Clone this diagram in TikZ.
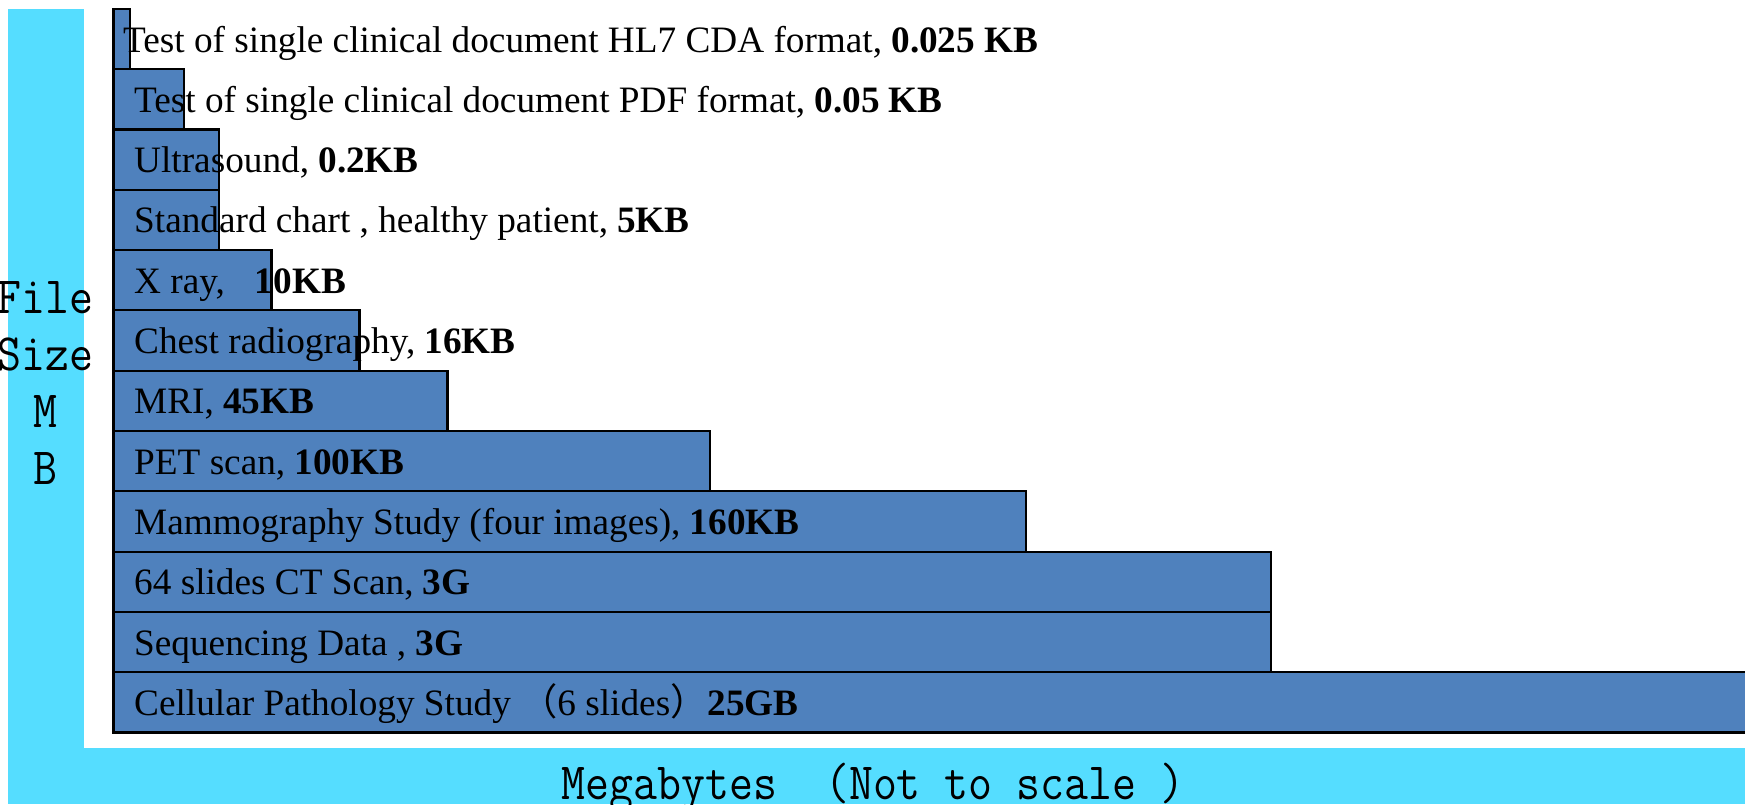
\documentclass[tikz,border=0pt]{standalone}
\usepackage{fontspec}
\setmainfont{Liberation Serif}
\newfontfamily\cjk{Noto Sans CJK SC}
\newfontfamily\axisfont[FakeStretch=0.888]{Latin Modern Mono}
\definecolor{BarBlue}{HTML}{4F81BD}
\definecolor{AxisCyan}{HTML}{55DDFF}
\usetikzlibrary{positioning}

\begin{document}
\begin{tikzpicture}[
      bar/.style={rectangle, draw=black, line width=0.6pt, fill=BarBlue,
        inner sep=0pt, outer sep=0pt, minimum height=0.603cm},
      lbl/.style={anchor=base west, inner sep=0pt, font=\fontsize{10.6}{12}\selectfont},
      ax/.style={inner sep=0pt, font=\fontsize{14.9}{16.2}\selectfont\axisfont}]
      \useasboundingbox (0,0) rectangle (17.45,-8.04);
      % axis bands
      \fill[AxisCyan] (0.078,-0.089) rectangle (0.835,-8.04);
      \fill[AxisCyan] (0.078,-7.48) rectangle (17.45,-8.04);
      % bars, top to bottom
      \node[bar, minimum width=0.167cm, anchor=north west] (b1) at (1.135,-0.089) {};
      \node[bar, minimum width=0.701cm, below right=0pt and 0pt of b1.south west] (b2) {};
      \node[bar, minimum width=1.057cm, below right=0pt and 0pt of b2.south west] (b3) {};
      \node[bar, minimum width=1.057cm, below right=0pt and 0pt of b3.south west] (b4) {};
      \node[bar, minimum width=1.580cm, below right=0pt and 0pt of b4.south west] (b5) {};
      \node[bar, minimum width=2.460cm, below right=0pt and 0pt of b5.south west] (b6) {};
      \node[bar, minimum width=3.340cm, below right=0pt and 0pt of b6.south west] (b7) {};
      \node[bar, minimum width=5.965cm, below right=0pt and 0pt of b7.south west] (b8) {};
      \node[bar, minimum width=9.125cm, below right=0pt and 0pt of b8.south west] (b9) {};
      \node[bar, minimum width=11.575cm, below right=0pt and 0pt of b9.south west] (b10) {};
      \node[bar, minimum width=11.575cm, below right=0pt and 0pt of b10.south west] (b11) {};
      \node[bar, minimum width=16.345cm, below right=0pt and 0pt of b11.south west] (b12) {};
      \draw[line width=1.1pt] (b12.south west) -- (b12.south east);
      % labels
      \node[lbl] (t1) at ([xshift=0.09cm, yshift=-0.13cm]b1.west) {Test of single clinical document HL7 CDA format, \textbf{0.025 KB}};
      \node[lbl] (t2) at ([xshift=0.2cm, yshift=-0.13cm]b2.west) {Test of single clinical document PDF format, \textbf{0.05 KB}};
      \node[lbl] (t3) at ([xshift=0.2cm, yshift=-0.13cm]b3.west) {Ultrasound, \textbf{0.2KB}};
      \node[lbl] (t4) at ([xshift=0.2cm, yshift=-0.13cm]b4.west) {Standard chart , healthy patient, \textbf{5KB}};
      \node[lbl] (t5) at ([xshift=0.2cm, yshift=-0.13cm]b5.west) {X ray,\hspace{0.3cm}\textbf{10KB}};
      \node[lbl] (t6) at ([xshift=0.2cm, yshift=-0.13cm]b6.west) {Chest radiography, \textbf{16KB}};
      \node[lbl] (t7) at ([xshift=0.2cm, yshift=-0.13cm]b7.west) {MRI, \textbf{45KB}};
      \node[lbl] (t8) at ([xshift=0.2cm, yshift=-0.13cm]b8.west) {PET scan, \textbf{100KB}};
      \node[lbl] (t9) at ([xshift=0.2cm, yshift=-0.13cm]b9.west) {Mammography Study (four images), \textbf{160KB}};
      \node[lbl] (t10) at ([xshift=0.2cm, yshift=-0.13cm]b10.west) {64 slides CT Scan, \textbf{3G}};
      \node[lbl] (t11) at ([xshift=0.2cm, yshift=-0.13cm]b11.west) {Sequencing Data , \textbf{3G}};
      \node[lbl] (t12) at ([xshift=0.2cm, yshift=-0.13cm]b12.west) {Cellular Pathology Study {\cjk （}6 slides{\cjk ）}\textbf{25GB}};
      % axis titles
      \node[ax, align=center] (ylab) at (0.455,-3.83) {File\\Size\\M\\B};
      \node[ax, anchor=base west] (xlab) at (5.61,-7.99) {Megabytes\ \ (Not to scale\ )};
    \end{tikzpicture}
\end{document}
